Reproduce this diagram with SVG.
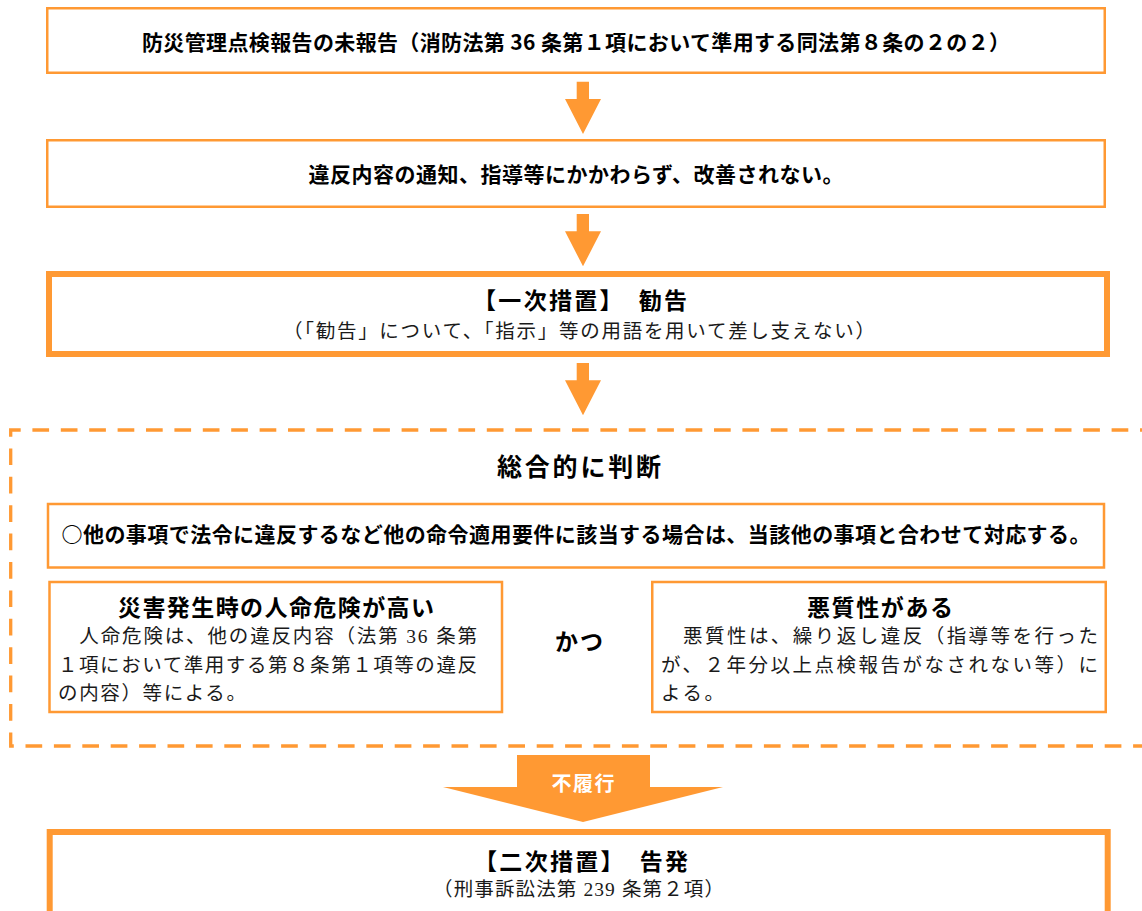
<svg xmlns="http://www.w3.org/2000/svg" width="1142" height="911" viewBox="0 0 1142 911">
  <style>
    .box { fill: #ffffff; stroke: #FF9933; stroke-width: 2.5; }
    .thick { fill: #ffffff; stroke: #FF9933; stroke-width: 6; }
    .arrow { fill: #FF9933; stroke: none; }
    .b { font-family: "Noto Sans CJK JP", "Liberation Sans", sans-serif; font-weight: 700; fill: #000000; }
    .n { font-family: "Liberation Serif", "Noto Sans CJK JP", serif; font-weight: 400; fill: #1a1a1a; font-size: 19.5px; }
    .c { text-anchor: middle; }
  </style>

  <g id="connectors">
    <polygon class="arrow" points="576.7,81.7 589,81.7 589,99 601,99 583,134 565,99 576.7,99"/>
    <polygon class="arrow" points="576.7,214 589,214 589,231.3 601,231.3 583,266.3 565,231.3 576.7,231.3"/>
    <polygon class="arrow" points="576.7,363 589,363 589,380.3 601,380.3 583,415.3 565,380.3 576.7,380.3"/>
    <polygon class="arrow" points="517,755 650,755 650,787 723,787 583,822 443,787 517,787"/>
    <text class="c" x="583" y="790.5" font-family="Noto Sans CJK JP, sans-serif" font-weight="700" font-size="20" fill="#ffffff" textLength="63" lengthAdjust="spacing">不履行</text>
  </g>

  <g id="node-unreported">
    <rect class="box" x="47.25" y="8.25" width="1057.5" height="64.5"/>
    <text class="b c" x="576" y="49.5" font-size="21" textLength="868" lengthAdjust="spacing">防災管理点検報告の未報告（消防法第 36 条第１項において準用する同法第８条の２の２）</text>
  </g>

  <g id="node-not-improved">
    <rect class="box" x="47.25" y="140.25" width="1057.5" height="66.5"/>
    <text class="b c" x="576" y="181.5" font-size="21" textLength="535" lengthAdjust="spacing">違反内容の通知、指導等にかかわらず、改善されない。</text>
  </g>

  <g id="node-primary">
    <rect class="thick" x="49" y="274" width="1058" height="80"/>
    <text class="b c" x="580" y="308.5" font-size="23" textLength="214" lengthAdjust="spacing">【一次措置】　勧告</text>
    <text class="n c" x="579" y="337.5" textLength="592" lengthAdjust="spacing">（「勧告」について、「指示」等の用語を用いて差し支えない）</text>
  </g>

  <g id="node-judgement">
    <path d="M1150,430 H10.7 V746 H1150" fill="none" stroke="#FF9933" stroke-width="3.3" stroke-dasharray="16.7 11.7" stroke-dashoffset="6.7"/>
    <text class="b c" x="579" y="475.5" font-size="25" textLength="164" lengthAdjust="spacing">総合的に判断</text>
  </g>

  <g id="node-other-matters">
    <rect class="box" x="48" y="504" width="1056" height="63.5"/>
    <text class="b c" x="576" y="541.5" font-size="21" textLength="1029" lengthAdjust="spacing">○他の事項で法令に違反するなど他の命令適用要件に該当する場合は、当該他の事項と合わせて対応する。</text>
  </g>

  <g id="node-life-risk">
    <rect class="box" x="49.5" y="582" width="452.5" height="130"/>
    <text class="b c" x="276" y="615.5" font-size="23" textLength="316" lengthAdjust="spacing">災害発生時の人命危険が高い</text>
    <text class="n" x="58" y="642.5" textLength="419" lengthAdjust="spacing">　人命危険は、他の違反内容（法第 36 条第</text>
    <text class="n" x="58" y="671.5" textLength="419" lengthAdjust="spacing">１項において準用する第８条第１項等の違反</text>
    <text class="n" x="58" y="700" textLength="188" lengthAdjust="spacing">の内容）等による。</text>
  </g>

  <g id="node-and">
    <text class="b c" x="579" y="650" font-size="23" textLength="48" lengthAdjust="spacing">かつ</text>
  </g>

  <g id="node-malice">
    <rect class="box" x="652.25" y="582" width="453.5" height="130"/>
    <text class="b c" x="880" y="615.5" font-size="23" textLength="146" lengthAdjust="spacing">悪質性がある</text>
    <text class="n" x="661" y="642.5" textLength="437" lengthAdjust="spacing">　悪質性は、繰り返し違反（指導等を行った</text>
    <text class="n" x="661" y="671.5" textLength="437" lengthAdjust="spacing">が、２年分以上点検報告がなされない等）に</text>
    <text class="n" x="661" y="700" textLength="63" lengthAdjust="spacing">よる。</text>
  </g>

  <g id="node-secondary">
    <rect class="thick" x="49.7" y="832" width="1058" height="100"/>
    <text class="b c" x="581" y="869.5" font-size="23" textLength="214" lengthAdjust="spacing">【二次措置】　告発</text>
    <text class="n c" x="578.5" y="895.5" textLength="291" lengthAdjust="spacing">（刑事訴訟法第 239 条第２項）</text>
  </g>
</svg>
